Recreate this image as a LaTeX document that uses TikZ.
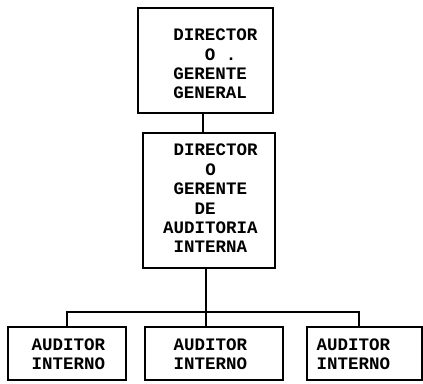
\documentclass[tikz,border=0pt]{standalone}
\usepackage{fontspec}
\setmonofont{Liberation Mono}
\begin{document}
\begin{tikzpicture}[x=1pt,y=-1pt,
  box/.style={draw, line width=2.6pt, inner sep=0pt, rectangle},
  lbl/.style={font=\ttfamily\bfseries\fontsize{17.5}{19.4}\selectfont, align=left, inner sep=0pt},
  conn/.style={line width=2.6pt}]
\useasboundingbox (0,0) rectangle (423,383);
% boxes
\node[box, minimum width=135pt, minimum height=105pt] (top) at (205.5,60.5) {};
\node[box, minimum width=132pt, minimum height=135pt] (mid) at (209,200.5) {};
\node[box, minimum width=118pt, minimum height=53pt] (b1) at (67,353.5) {};
\node[box, minimum width=138pt, minimum height=53pt] (b2) at (214,353.5) {};
\node[box, minimum width=115pt, minimum height=53pt] (b3) at (364.5,353.5) {};
% texts
\node[lbl] (ttop) at (215.5,64) {DIRECTOR\\\hphantom{DIR}O .\\GERENTE\\GENERAL};
\node[lbl] (tmid) at (210.5,198.5) {\hphantom{A}DIRECTOR\\\hphantom{AUDI}O\\\hphantom{A}GERENTE\\\hphantom{AUD}DE\\AUDITORIA\\\hphantom{A}INTERNA};
\node[lbl] (t1) at (68.5,354) {AUDITOR\\INTERNO};
\node[lbl] (t2) at (210.5,354) {AUDITOR\\INTERNO};
\node[lbl] (t3) at (353.5,354) {AUDITOR\\INTERNO};
% connectors
\coordinate (c1) at (203,0);
\coordinate (bus) at (206,312);
\coordinate (d3) at (359,0);
\draw[conn] (top.south -| c1) -- (mid.north -| c1);
\draw[conn] (mid.south -| bus) -- (bus);
\draw[conn] (b1.north) |- (bus) -| (b3.north -| d3);
\draw[conn] (bus) -- (b2.north -| bus);
\end{tikzpicture}
\end{document}
